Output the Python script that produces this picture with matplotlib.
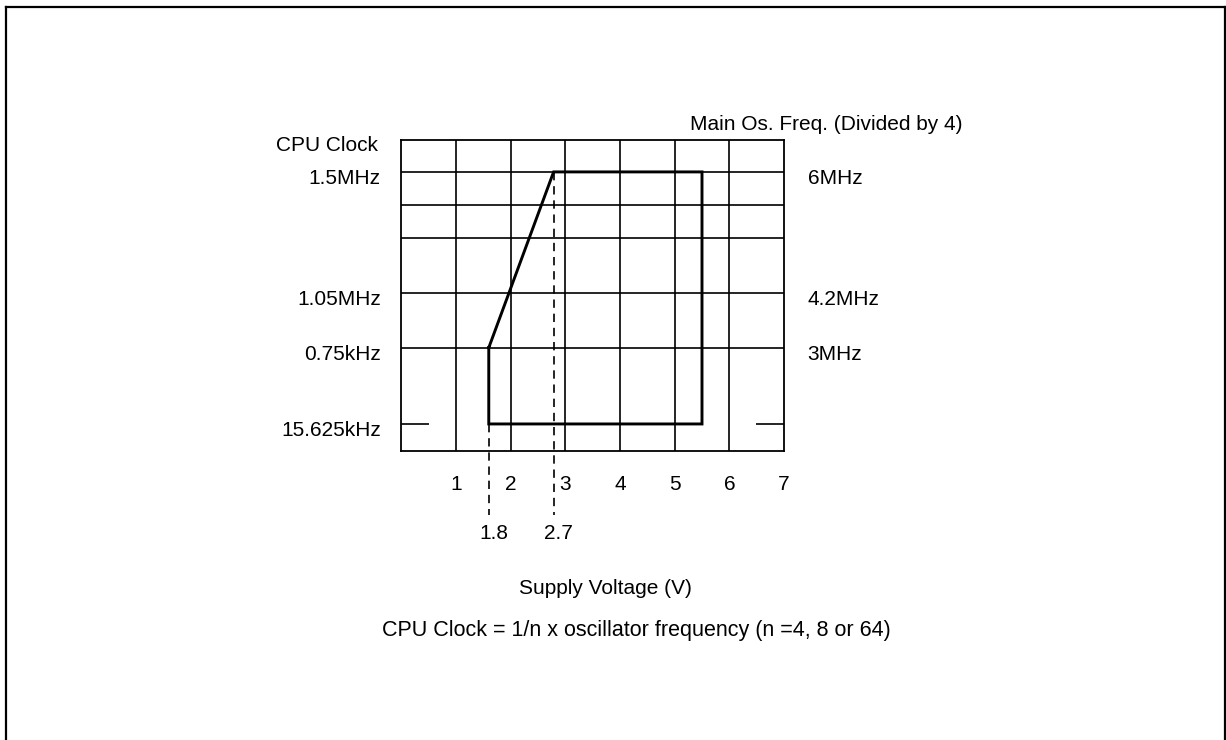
import matplotlib
matplotlib.use("Agg")
import matplotlib.pyplot as plt
from matplotlib.transforms import ScaledTranslation, blended_transform_factory
from matplotlib.lines import Line2D

plt.rcParams['font.family'] = ['Liberation Sans', 'DejaVu Sans']

# ---- data ----
x_ticks = [1, 2, 3, 4, 5, 6, 7]
x_tick_labels = ['1', '2', '3', '4', '5', '6', '7']
x_range = (0, 7)
# grid levels on the (schematic) vertical scale
y_range = (0, 11.5)
grid_levels = [3.82, 5.85, 7.89, 9.09, 10.32]
stub_level = 1.0
stub_segments = [(0, 0.51), (6.49, 7)]
left_label_levels = [10.32, 5.85, 3.82, 1.0]
left_labels = ['1.5MHz', '1.05MHz', '0.75kHz', '15.625kHz']
right_label_levels = [10.32, 5.85, 3.82]
right_labels = ['6MHz', '4.2MHz', '3MHz']
# operating region outline (voltage position, level)
region_v = [1.6, 1.6, 5.5, 5.5, 2.786, 1.6]
region_y = [3.82, 1.0, 1.0, 10.32, 10.32, 3.82]
# dashed marker lines
marker_v = [1.6, 2.786]
marker_top = [1.0, 10.32]
marker_bottom = -2.37
marker_labels = ['1.8', '2.7']

W, H, DPI = 1226, 740, 100
fig = plt.figure(figsize=(W / DPI, H / DPI), dpi=DPI)
ax = fig.add_axes([401.3 / W, (H - 451) / H, (784 - 401.3) / W, (451 - 140) / H])
ax.set_xlim(*x_range)
ax.set_ylim(*y_range)
ax.set_xticks([])
ax.set_yticks([])
for s in ax.spines.values():
    s.set_linewidth(1.3)
    s.set_color('black')

def off(dx, dy):
    return ScaledTranslation(dx / DPI, dy / DPI, fig.dpi_scale_trans)

LW_GRID = 1.2
# vertical grid lines
for v in x_ticks[:-1]:
    ax.axvline(v, color='black', lw=LW_GRID)
# horizontal grid lines
for lv in grid_levels:
    ax.axhline(lv, color='black', lw=LW_GRID)
# stubs at the lowest level
for a, b in stub_segments:
    ax.plot([a, b], [stub_level, stub_level], color='black', lw=LW_GRID, solid_capstyle='butt')

# region outline
ax.plot(region_v, region_y, color='black', lw=2.1, solid_joinstyle='miter', zorder=5)

# dashed markers
for v, top in zip(marker_v, marker_top):
    ax.plot([v, v], [top, marker_bottom], color='black', lw=1.2,
            linestyle=(0, (5, 3.5)), clip_on=False, zorder=4)

FS = 15
ytr = blended_transform_factory(ax.transAxes, ax.transData)
xtr = blended_transform_factory(ax.transData, ax.transAxes)

for lv, lab in zip(left_label_levels, left_labels):
    ax.text(0, lv, lab, transform=ytr + off(-20.5, -12.5), ha='right', va='baseline', fontsize=FS)
for lv, lab in zip(right_label_levels, right_labels):
    ax.text(1, lv, lab, transform=ytr + off(23.7, -12.5), ha='left', va='baseline', fontsize=FS)

ax.text(0, 1, 'CPU Clock', transform=ax.transAxes + off(-23.3, -11), ha='right', va='baseline', fontsize=FS)
ax.text(1, 1, 'Main Os. Freq. (Divided by 4)', transform=ax.transAxes + off(179, 10),
        ha='right', va='baseline', fontsize=FS)

for v, lab in zip(x_ticks, x_tick_labels):
    ax.text(v, 0, lab, transform=xtr + off(0, -39), ha='center', va='baseline', fontsize=FS)
for v, lab in zip(marker_v, marker_labels):
    ax.text(v, 0, lab, transform=xtr + off(5, -88), ha='center', va='baseline', fontsize=FS)

fig.text(605 / W, 1 - 594 / H, 'Supply Voltage (V)', ha='center', va='baseline', fontsize=FS)
fig.text(636.7 / W, 1 - 636 / H, 'CPU Clock = 1/n x oscillator frequency (n =4, 8 or 64)',
         ha='center', va='baseline', fontsize=15.5)

# page frame (left, top, right edges)
fig.add_artist(Line2D([5.7 / W, 5.7 / W], [0, 1 - 7 / H], color='black', lw=1.6, transform=fig.transFigure))
fig.add_artist(Line2D([5.7 / W, 1224.8 / W], [1 - 7 / H, 1 - 7 / H], color='black', lw=1.6, transform=fig.transFigure))
fig.add_artist(Line2D([1224.8 / W, 1224.8 / W], [0, 1 - 7 / H], color='black', lw=1.6, transform=fig.transFigure))

fig.savefig('out.png', dpi=DPI)
